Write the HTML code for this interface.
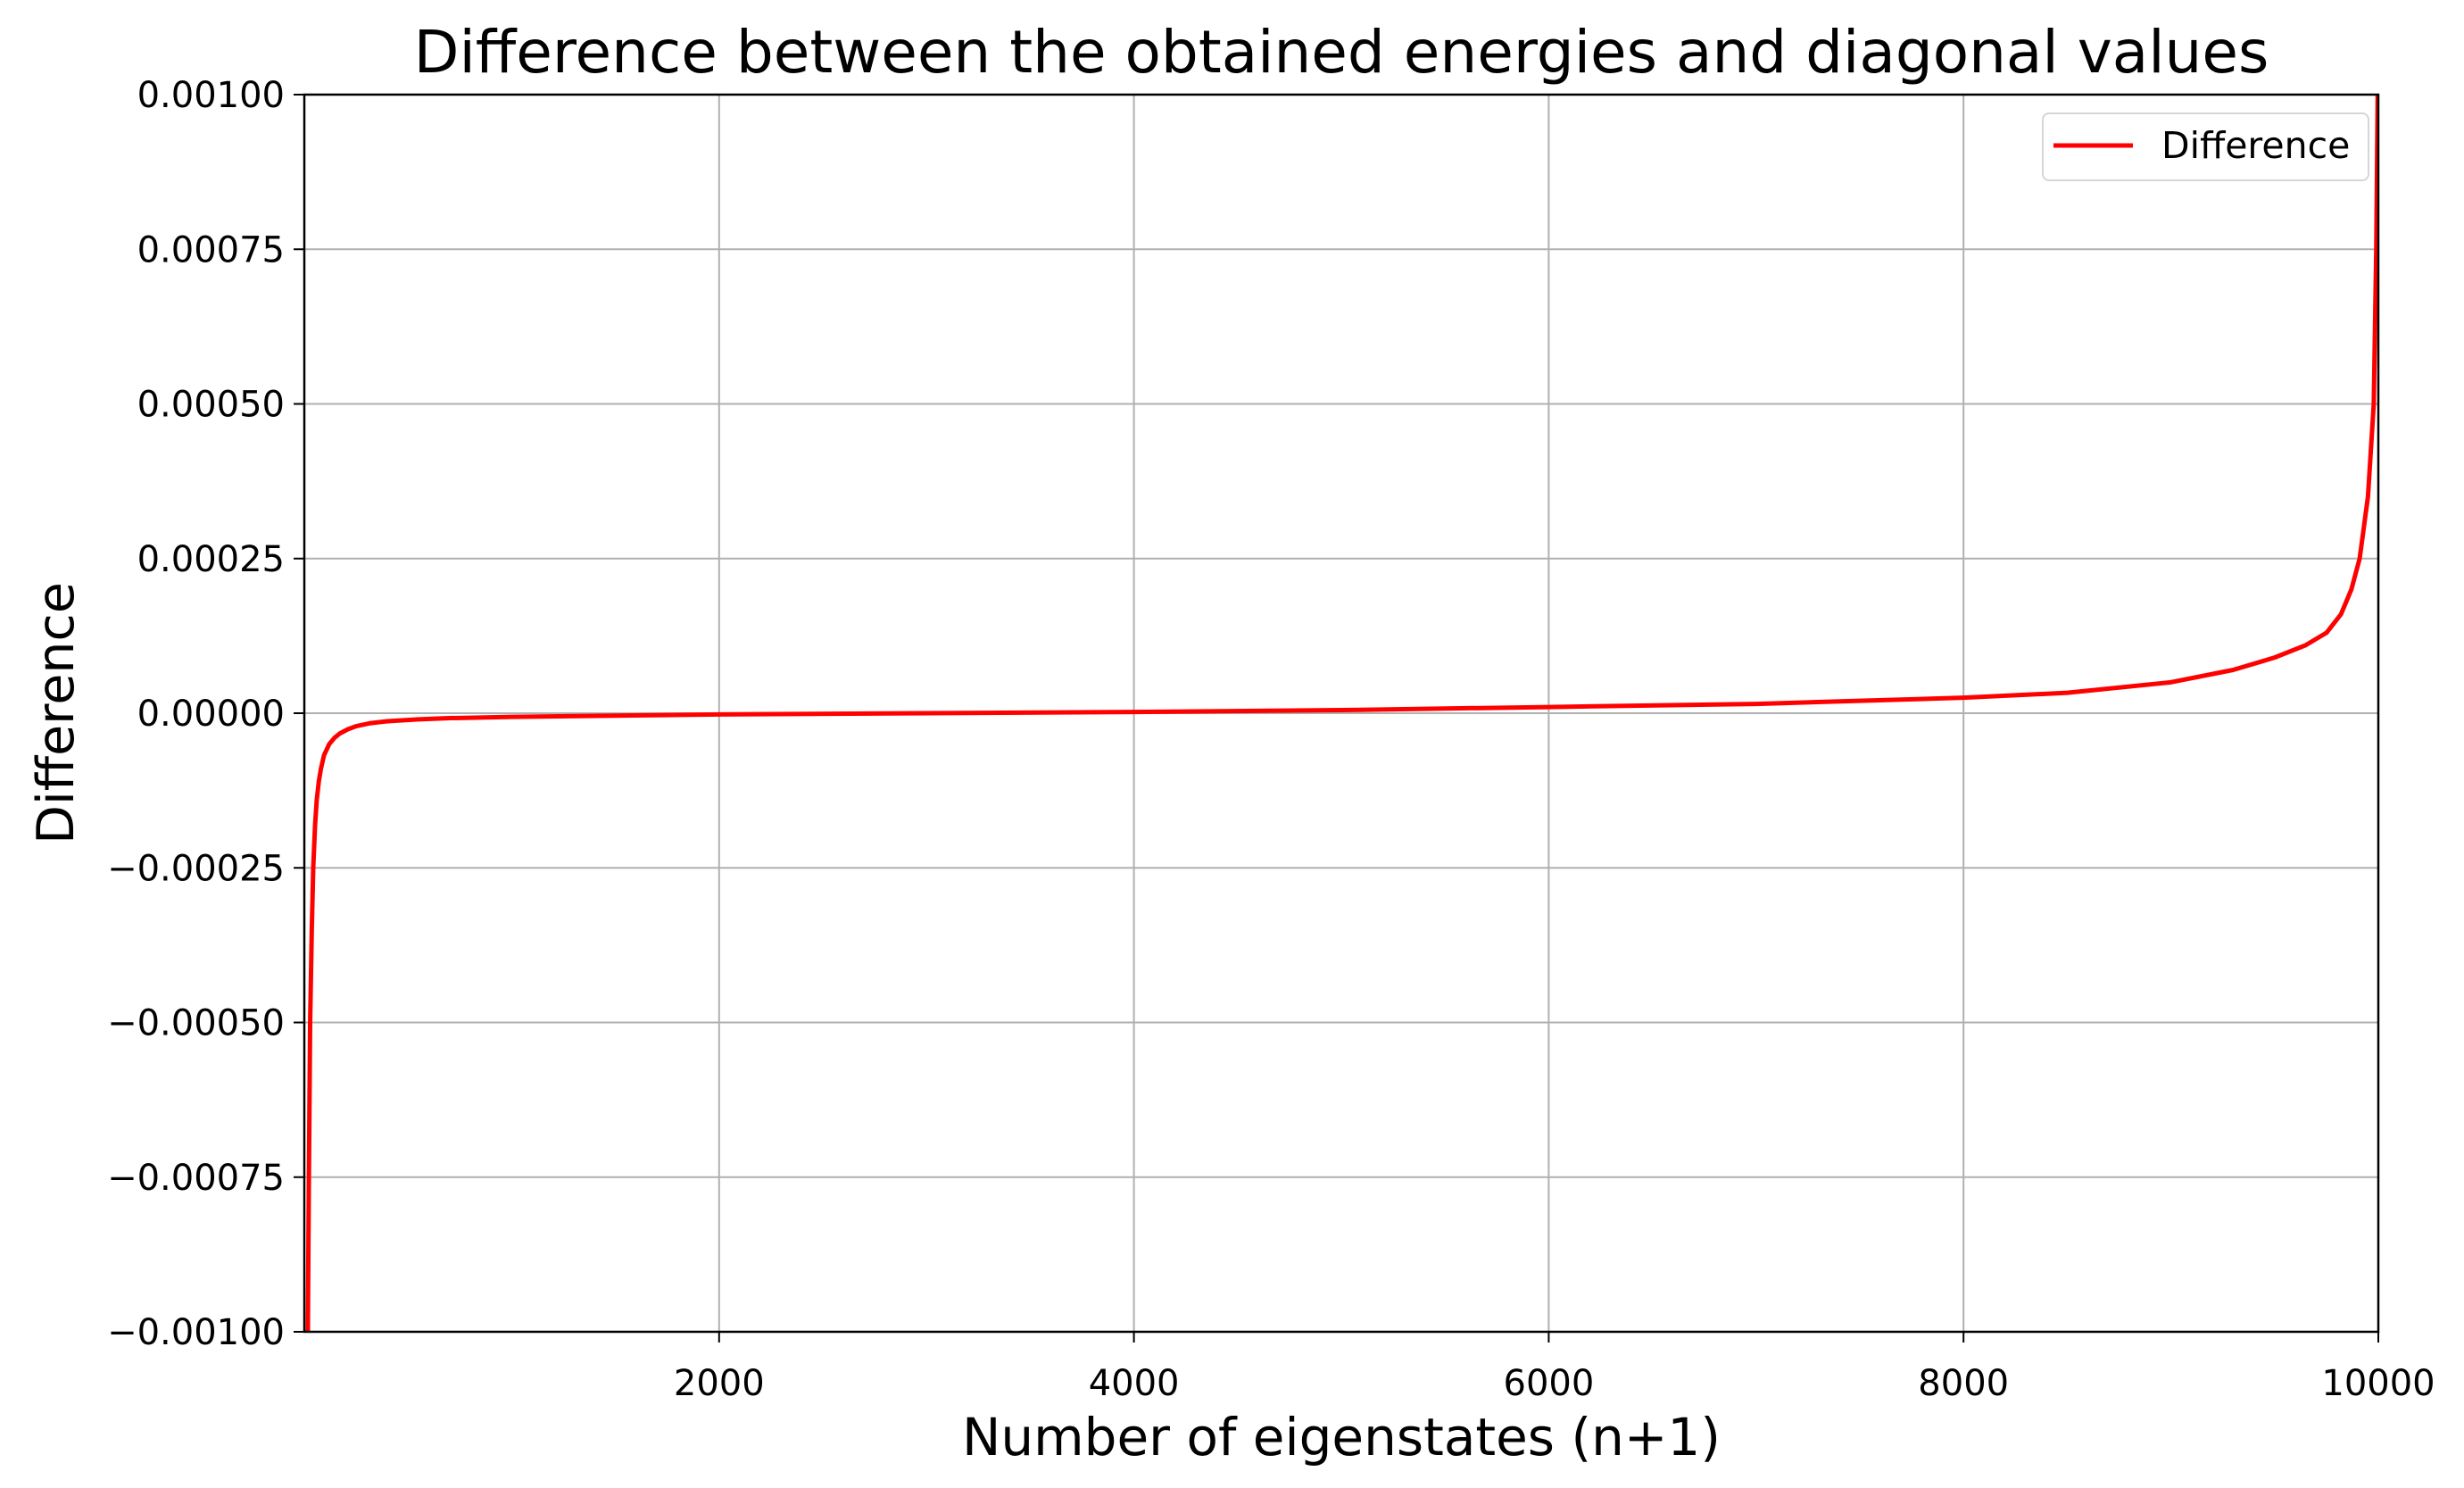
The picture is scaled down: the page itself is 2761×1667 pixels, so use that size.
<!DOCTYPE html>
<html><head><meta charset="utf-8"><style>
html,body{margin:0;padding:0;background:#fff;overflow:hidden;width:2761px;height:1667px;}
svg{display:block;font-family:"DejaVu Sans","Liberation Sans",sans-serif;}
</style></head><body>
<svg id="chart" width="2761" height="1667" viewBox="0 0 2761 1667" xmlns="http://www.w3.org/2000/svg">
<rect width="2761" height="1667" fill="#fff"/>
<defs><clipPath id="plotclip"><rect x="341" y="106" width="2324" height="1386"/></clipPath></defs>
<g id="grid"></g>
<g id="ticks"></g>
<path id="series" fill="none" stroke="#ff0000" stroke-width="5" stroke-linejoin="round" clip-path="url(#plotclip)"/>
<rect x="341" y="106" width="2324" height="1386" fill="none" stroke="#000" stroke-width="2.5"/>
<text x="1503" y="81" font-size="66" text-anchor="middle">Difference between the obtained energies and diagonal values</text>
<text x="1503" y="1630" font-size="58" text-anchor="middle">Number of eigenstates (n+1)</text>
<text x="0" y="0" font-size="57" text-anchor="middle" transform="translate(82,799) rotate(-90)">Difference</text>
<g>
<rect x="2289" y="127" width="365" height="75" rx="7" fill="#fff" fill-opacity="0.8" stroke="#d6d6d6" stroke-width="2"/>
<line x1="2301" y1="163" x2="2390" y2="163" stroke="#ff0000" stroke-width="5"/>
<text x="2422" y="177" font-size="41">Difference</text>
</g>
</svg>
<script>
const xs = [1,10,17,22,28,36,43,52,60,70,80,95,120,145,170,210,250,320,400,550,700,1000,2000,3000,4000,5000,6000,7000,8000,8500,9000,9300,9500,9650,9750,9820,9870,9910,9950,9978,9990,9997,10000];
const ys = [-0.01,-0.0016,-0.001,-0.00075,-0.0005,-0.00035,-0.00025,-0.00018,-0.00014,-0.00011,-0.00009,-0.000068,-0.00005,-0.00004,-0.000033,-0.000026,-0.000021,-0.000016,-0.000013,-0.00001,-0.000008,-0.000006,-0.000002,0,0.000002,0.000005,0.00001,0.000015,0.000025,0.000033,0.00005,0.00007,0.00009,0.00011,0.00013,0.00016,0.0002,0.00025,0.00035,0.0005,0.00075,0.001,0.0015];
const xTicks = [2000,4000,6000,8000,10000];
const yTicks = [-0.001,-0.00075,-0.0005,-0.00025,0,0.00025,0.0005,0.00075,0.001];
const yTickLabels = ["\u22120.00100","\u22120.00075","\u22120.00050","\u22120.00025","0.00000","0.00025","0.00050","0.00075","0.00100"];
const X0=341,X1=2665,Y0=106,Y1=1492;
const sx=v=>X0+(v-0)/(10000-0)*(X1-X0);
const sy=v=>Y1-(v+0.001)/0.002*(Y1-Y0);
const NS="http://www.w3.org/2000/svg";
const grid=document.getElementById('grid'), ticks=document.getElementById('ticks');
function mk(tag,attrs,parent){const e=document.createElementNS(NS,tag);for(const k in attrs)e.setAttribute(k,attrs[k]);parent.appendChild(e);return e;}
xTicks.forEach(t=>{
  const x=sx(t);
  const g=mk('line',{x1:x,x2:x,y1:Y0,y2:Y1,stroke:'#b0b0b0','stroke-width':2},grid);
  
  
  const tk=mk('line',{x1:x,x2:x,y1:Y1,y2:Y1+12,stroke:'#000','stroke-width':2},ticks);
  
  
  const tx=mk('text',{x:x,y:Y1+71,'font-size':40,'text-anchor':'middle'},ticks);
  tx.textContent=String(t);
  
  
});
yTicks.forEach((t,i)=>{
  const y=sy(t);
  const g=mk('line',{x1:X0,x2:X1,y1:y,y2:y,stroke:'#b0b0b0','stroke-width':2},grid);
  
  
  const tk=mk('line',{x1:X0-12,x2:X0,y1:y,y2:y,stroke:'#000','stroke-width':2},ticks);
  
  
  const tx=mk('text',{x:X0-22,y:y+14,'font-size':40,'text-anchor':'end'},ticks);
  tx.textContent=yTickLabels[i];
  
  
});
let d='';
xs.forEach((x,i)=>{d+=(i?'L':'M')+sx(x).toFixed(2)+','+sy(ys[i]).toFixed(2);});
document.getElementById('series').setAttribute('d',d);
</script>
</body></html>
